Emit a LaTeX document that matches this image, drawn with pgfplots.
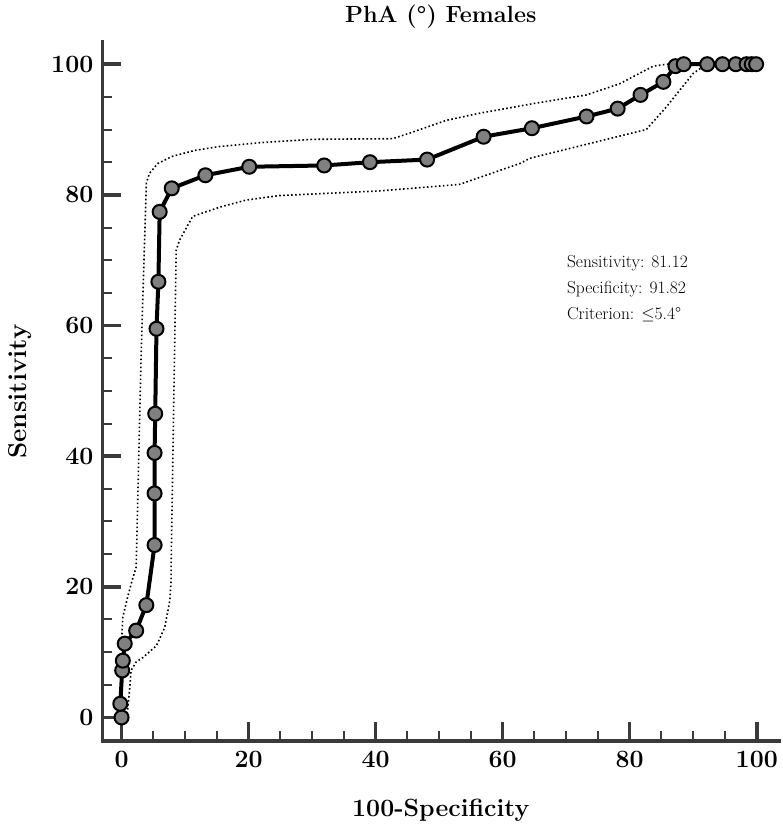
\documentclass[border=0pt]{standalone}
\usepackage{fontspec}
\usepackage{pgfplots}
\pgfplotsset{compat=1.18}
\definecolor{axisgray}{HTML}{3A3A3A}
\definecolor{markgray}{HTML}{808080}
\begin{document}
\begin{tikzpicture}
\path[use as bounding box] (-102.5bp,-91bp) rectangle (680.5bp,741bp);
\begin{axis}[
  at={(0,0)}, anchor=south west,
  scale only axis, width=676.5bp, height=699bp,
  xmin=-3, xmax=103.5, ymin=-3.6, ymax=103.4,
  axis x line*=bottom, axis y line*=left,
  axis line style={line width=3.5bp, color=axisgray, line cap=rect},
  xtick={0,20,...,100}, ytick={0,20,...,100}, minor tick num=3,
  tick align=inside,
  major tick length=19bp, minor tick length=10bp,
  every tick/.append style={color=axisgray},
  major tick style={line width=3.5bp},
  minor tick style={line width=2bp},
  ticklabel style={font=\fontsize{25}{29}\selectfont\bfseries},
  xticklabel style={inner sep=0pt, anchor=north, yshift=-10bp},
  yticklabel style={inner sep=0pt, anchor=east, xshift=-9bp},
  /pgf/number format/assume math mode=true,
  clip=false,
  title={PhA (°) Females},
  title style={font=\fontsize{23.5}{27}\selectfont\bfseries, at={(axis description cs:0.5,1)}, anchor=base, yshift=14bp, inner sep=0pt},
  xlabel={100-Specificity},
  xlabel style={font=\fontsize{25}{29}\selectfont\bfseries, at={(axis description cs:0.5,0)}, anchor=base, yshift=-75bp, inner sep=0pt},
  ylabel={Sensitivity},
  ylabel style={font=\fontsize{26}{30}\selectfont\bfseries, at={(axis description cs:-0.122,0.5)}, anchor=center, inner sep=0pt},
]
% upper confidence band
\addplot[black, line width=1.6bp, dash pattern=on 1.6bp off 2.4bp] coordinates {
(0,11.5) (0.2,15.4) (1.0,18.6) (1.7,21.1) (2.3,23.0) (3.1,56.2) (3.9,81.8) (4.4,83.3) (5.7,84.8) (8.0,85.9) (11.5,86.8) (15.4,87.4) (22,88.0) (30.1,88.5) (42.7,88.6) (45.8,89.6) (51.1,91.4) (56.4,92.5) (65,94.0) (73.2,95.3) (78.4,97.0) (83.7,99.7) (85.8,100) (100,100)
};
% lower confidence band
\addplot[black, line width=1.6bp, dash pattern=on 1.6bp off 2.4bp] coordinates {
(0.8,0) (1.0,1.6) (1.3,4.6) (1.5,7.2) (2.3,8.5) (3.4,9.2) (5.5,11.0) (6.8,13.8) (7.6,17.9) (7.8,21.0) (7.8,23.0) (8.6,71.5) (9.1,73.0) (11.2,76.7) (15.4,78.1) (19.6,79.2) (24.9,79.9) (40.6,80.6) (53.2,81.6) (62.7,84.8) (64.3,85.6) (82.6,90.0) (85.8,93.5) (90.0,98.6) (91.5,99.6) (92.6,100) (100,100)
};
% ROC curve
\addplot[black, line width=4bp, mark=*, mark size=7bp, mark options={fill=markgray, draw=black, line width=2bp}] coordinates {
(0,0) (-0.2,2.1) (0.1,7.2) (0.2,8.7) (0.5,11.3) (2.3,13.3) (3.9,17.2) (5.2,26.4) (5.2,34.3) (5.2,40.5) (5.3,46.5) (5.5,59.5) (5.8,66.7) (6.0,77.4) (7.9,81.0) (13.2,83.0) (20.1,84.3) (31.9,84.5) (39.1,85.0) (48.1,85.4) (57.0,88.9) (64.6,90.2) (73.2,92.0) (78.1,93.2) (81.7,95.3) (85.3,97.3) (87.2,99.7) (88.5,100) (92.2,100) (94.6,100) (96.7,100) (98.4,100) (99.2,100) (99.9,100)
};
\node[anchor=base west, inner sep=0pt, font=\fontsize{17.5}{20}\selectfont] at (axis cs:70.1,68.9) {Sensitivity: 81.12};
\node[anchor=base west, inner sep=0pt, font=\fontsize{17.5}{20}\selectfont] at (axis cs:70.1,64.9) {Specificity: 91.82};
\node[anchor=base west, inner sep=0pt, font=\fontsize{17.5}{20}\selectfont] at (axis cs:70.1,60.9) {Criterion: $\leq$5.4°};
\end{axis}
\end{tikzpicture}
\end{document}
